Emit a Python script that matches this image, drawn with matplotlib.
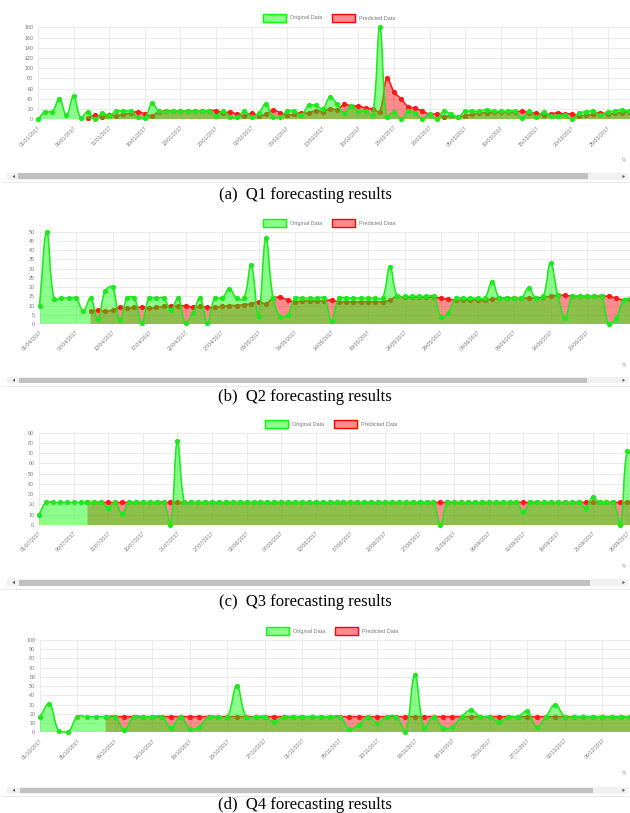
import numpy as np
import matplotlib
matplotlib.use("Agg")
import matplotlib.pyplot as plt
from matplotlib.patches import Rectangle, Polygon, PathPatch
from matplotlib.path import Path
from matplotlib.lines import Line2D

W, H = 630, 813

# ==================================================
# data
# ==================================================
q1_orig = [0, 15, 15, 40, 8, 46, 3, 15, 0, 12,
           7, 16, 16, 16, 4, 2, 31, 16, 16, 16,
           16, 16, 16, 16, 16, 7, 16, 5, 4, 16,
           5, 12, 30, 5, 4, 16, 16, 8, 27, 27,
           21, 43, 30, 13, 26, 16, 16, 8, 180, 4,
           15, 0, 16, 12, 1, 10, 1, 16, 10, 5,
           16, 16, 16, 19, 16, 16, 16, 16, 2, 16,
           4, 15, 7, 7, 8, 1, 12, 15, 16, 8,
           15, 16, 19, 16, 16, 15, 16, 17, 16]
q1_pred_start = 7
q1_pred = [3, 8, 5,
           8, 7, 10, 12, 15, 11, 7, 15, 16, 16,
           16, 16, 16, 16, 17, 17, 13, 14, 10, 7,
           12, 7, 10, 18, 13, 8, 10, 13, 12, 17,
           15, 21, 19, 29, 26, 26, 22, 20, 15, 80,
           54, 40, 25, 22, 16, 10, 10, 5, 8, 5,
           7, 10, 12, 13, 14, 14, 14, 14, 16, 13,
           12, 9, 10, 13, 10, 11, 7, 8, 10, 13,
           10, 12, 13, 15, 14, 15, 15, 16, 16]
q1_ticks = ["01/01/2017", "06/01/2017", "11/01/2017", "16/01/2017", "22/01/2017",
            "28/01/2017", "02/02/2017", "08/02/2017", "13/02/2017", "18/02/2017",
            "23/02/2017", "28/02/2017", "05/03/2017", "10/03/2017", "15/03/2017",
            "20/03/2017", "25/03/2017"]

q2_orig = [10, 50, 13.5, 14, 14, 14, 7, 14, 2.5, 18,
           20, 2, 14, 14, 0.5, 14, 14, 14, 7.5, 14,
           0.5, 6, 14, 0.5, 14, 14, 19, 14, 14, 32,
           4.5, 46.5, 14, 4, 5, 14, 14, 14, 14, 14,
           1.5, 14, 14, 14, 14, 14, 14, 14, 31, 15,
           15, 15, 15, 15, 15, 4, 6, 14, 14, 14,
           14, 14, 23, 14, 14, 14, 14, 19.5, 14, 15,
           33, 15.5, 3.5, 15, 15, 15, 15, 15, 0, 3,
           13, 14, 14, 15, 14, 14]
q2_pred_start = 7
q2_pred = [7, 7.5, 7,
           7.5, 9, 8.5, 9, 9, 8.5, 9, 9.5, 10, 9.5,
           10, 9, 9.5, 9, 9, 9.5, 10, 10, 10.5, 11,
           12, 11, 14, 14.5, 13, 12, 12.5, 12.5, 12.5, 12.5,
           13, 12, 12, 12, 12, 12, 12, 12, 13, 15,
           14.5, 14.5, 14.5, 14.5, 14.5, 14, 13.5, 13, 13, 13,
           13, 13, 13.5, 14, 14, 14, 14, 14, 14, 14.5,
           15, 15.5, 15.5, 15, 15, 15, 15, 15, 15, 14,
           13, 13, 13, 13.5, 13.5, 13.5]
q2_ticks = ["01/04/2017", "07/04/2017", "12/04/2017", "17/04/2017", "22/04/2017",
            "27/04/2017", "03/05/2017", "09/05/2017", "14/05/2017", "19/05/2017",
            "24/05/2017", "29/05/2017", "04/06/2017", "09/06/2017", "14/06/2017",
            "20/06/2017"]

q3_orig = [10, 22, 22, 22, 22, 22, 22, 22, 22, 22,
           17, 22, 11, 22, 22, 22, 22, 22, 22, 0,
           82, 22, 22, 22, 22, 22, 22, 22, 22, 22,
           22, 22, 22, 22, 22, 22, 22, 22, 22, 22,
           22, 22, 22, 22, 22, 22, 22, 22, 22, 22,
           22, 22, 22, 22, 22, 22, 22, 22, 0, 22,
           22, 22, 22, 22, 22, 22, 22, 22, 22, 22,
           13, 22, 22, 22, 22, 22, 22, 22, 22, 17,
           27, 22, 22, 22, 0, 72, 60, 22]
q3_pred_start = 7
q3_pred = [22, 22, 22,
           22, 22, 22, 22, 22, 22, 22, 22, 22, 22,
           22, 22, 22, 22, 22, 22, 22, 22, 22, 22,
           22, 22, 22, 22, 22, 22, 22, 22, 22, 22,
           22, 22, 22, 22, 22, 22, 22, 22, 22, 22,
           22, 22, 22, 22, 22, 22, 22, 22, 22, 22,
           22, 22, 22, 22, 22, 22, 22, 22, 22, 22,
           22, 22, 22, 22, 22, 22, 22, 22, 22, 22,
           22, 22, 22, 22, 22, 22, 22, 22]
q3_ticks = ["01/07/2017", "06/07/2017", "11/07/2017", "16/07/2017", "21/07/2017",
            "27/07/2017", "02/08/2017", "07/08/2017", "12/08/2017", "17/08/2017",
            "22/08/2017", "27/08/2017", "01/09/2017", "06/09/2017", "11/09/2017",
            "16/09/2017", "21/09/2017", "26/09/2017"]

q4_orig = [17, 31, 1.5, 0.5, 17, 17, 17, 17, 17, 2.5,
           17, 17, 17, 17, 5, 17, 4, 6, 17, 17,
           17, 50.5, 17, 17, 17, 11.5, 17, 17, 17, 17,
           17, 17, 17, 4, 8, 17, 10.5, 17, 17, 0.5,
           62, 5, 17, 5, 6, 17, 24, 17, 17, 11.5,
           17, 17, 23, 6, 17, 30, 17, 17, 17, 17,
           17, 17, 17, 17, 17, 17, 17]
q4_pred_start = 7
q4_pred = [17, 17, 17,
           17, 17, 17, 17, 17, 17, 17, 17, 17, 17,
           17, 17, 17, 17, 17, 17, 17, 17, 17, 17,
           17, 17, 17, 17, 17, 17, 17, 17, 17, 17,
           17, 17, 17, 17, 17, 17, 17, 17, 17, 17,
           17, 17, 17, 17, 17, 17, 17, 17, 17, 17,
           17, 17, 17, 17, 17, 17, 17]
q4_ticks = ["01/10/2017", "05/10/2017", "09/10/2017", "14/10/2017", "19/10/2017",
            "23/10/2017", "27/10/2017", "01/11/2017", "05/11/2017", "10/11/2017",
            "14/11/2017", "18/11/2017", "23/11/2017", "27/11/2017", "02/12/2017",
            "06/12/2017"]

captions = ["(a)  Q1 forecasting results", "(b)  Q2 forecasting results",
            "(c)  Q3 forecasting results", "(d)  Q4 forecasting results"]

# ==================================================
# helpers (pixel positions -> figure fractions)
# ==================================================
plt.rcParams["font.family"] = ["Liberation Sans", "DejaVu Sans"]

GREEN = (0.0, 1.0, 0.0)
RED = (1.0, 0.0, 0.0)
LINE_G = "#1ee81e"
LINE_R = "#ff1a1a"
TXT = "#777777"
TENSION = 0.4

fig = plt.figure(figsize=(W / 100, H / 100), dpi=100)
fig.patch.set_facecolor("white")


def fx(x):
    return x / W


def fy(y):
    return 1 - y / H


def add_rect(x0, y0, x1, y1, **kw):
    fig.patches.append(Rectangle((fx(x0), fy(y1)), (x1 - x0) / W, (y1 - y0) / H,
                                 transform=fig.transFigure, **kw))


def spline_verts(xs, ys, sx, sy, xmax, ymax):
    """Chart.js style bezier through the points (control points in pixel space)."""
    px = np.asarray(xs, float) * sx
    py = np.asarray(ys, float) * sy
    n = len(px)
    cprev = np.zeros((n, 2))
    cnext = np.zeros((n, 2))
    for i in range(n):
        a = max(i - 1, 0)
        b = min(i + 1, n - 1)
        d01 = np.hypot(px[i] - px[a], py[i] - py[a])
        d12 = np.hypot(px[b] - px[i], py[b] - py[i])
        tot = d01 + d12
        s01 = d01 / tot if tot else 0
        s12 = d12 / tot if tot else 0
        ddx, ddy = px[b] - px[a], py[b] - py[a]
        cprev[i] = (px[i] - TENSION * s01 * ddx, py[i] - TENSION * s01 * ddy)
        cnext[i] = (px[i] + TENSION * s12 * ddx, py[i] + TENSION * s12 * ddy)
    for c in (cprev, cnext):
        c[:, 0] = np.clip(c[:, 0], 0, xmax * sx)
        c[:, 1] = np.clip(c[:, 1], 0, ymax * sy)
    verts = [(px[0], py[0])]
    for i in range(n - 1):
        verts += [tuple(cnext[i]), tuple(cprev[i + 1]), (px[i + 1], py[i + 1])]
    verts = np.array(verts)
    verts[:, 0] /= sx
    verts[:, 1] /= sy
    return verts


def draw_series(ax, xs, ys, sx, sy, xmax, ymax, color, fill_rgba, z):
    v = spline_verts(xs, ys, sx, sy, xmax, ymax)
    codes = [Path.MOVETO] + [Path.CURVE4] * (len(v) - 1)
    fill_v = np.vstack([v, [[xs[-1], 0], [xs[0], 0], [xs[0], 0]]])
    fill_c = codes + [Path.LINETO, Path.LINETO, Path.CLOSEPOLY]
    ax.add_patch(PathPatch(Path(fill_v, fill_c), facecolor=fill_rgba, edgecolor="none", zorder=z))
    ax.add_patch(PathPatch(Path(v, codes), facecolor="none", edgecolor=color, lw=1.15,
                           zorder=z + 1, clip_on=False))
    ax.plot(xs, ys, "o", ms=3.8, color=color, mec="none", zorder=z + 2, clip_on=False)


def draw_legend(y, x0):
    items = [(x0, "Original Data", GREEN), (x0 + 69, "Predicted Data", RED)]
    for bx, label, col in items:
        add_rect(bx, y - 4, bx + 23, y + 4, facecolor=col + (0.45,), edgecolor=col, lw=1.0)
        fig.text(fx(bx + 27), fy(y), label, fontsize=4, color=TXT, ha="left", va="center")


def draw_scrollbar(y0, y1, t0, t1):
    add_rect(7, y0, 628, y1, facecolor="#f1f1f1", edgecolor="none")
    add_rect(t0, y0 + 0.5, t1, y1 - 0.5, facecolor="#c1c1c1", edgecolor="none")
    ym = (y0 + y1) / 2
    fig.patches.append(Polygon([(fx(12.5), fy(ym)), (fx(15), fy(ym - 1.6)), (fx(15), fy(ym + 1.6))],
                               closed=True, transform=fig.transFigure, facecolor="#505050", edgecolor="none"))
    fig.patches.append(Polygon([(fx(625), fy(ym)), (fx(622.5), fy(ym - 1.6)), (fx(622.5), fy(ym + 1.6))],
                               closed=True, transform=fig.transFigure, facecolor="#505050", edgecolor="none"))
    fig.lines.append(Line2D([fx(3), fx(630)], [fy(y1 + 2.5), fy(y1 + 2.5)],
                            transform=fig.transFigure, color="#e4e4e4", lw=0.6))


def draw_caption(y_base, text):
    fig.text(fx(305), fy(y_base), text, family="Liberation Serif", fontsize=12,
             ha="center", va="baseline")


def draw_panel(orig, pred, pred_start, ticks, tick_step, ymax, ystep,
               left, top, zero, dx):
    n = len(orig)
    ax = fig.add_axes([fx(left), fy(zero), dx * (n - 1) / W, (zero - top) / H])
    ax.set_xlim(0, n - 1)
    ax.set_ylim(0, ymax)
    ax.set_facecolor("none")
    for s in ax.spines.values():
        s.set_visible(False)

    ax.set_xticks(np.arange(len(ticks)) * tick_step)
    ax.set_xticklabels(ticks, rotation=45, ha="right", va="top",
                       rotation_mode="anchor", fontsize=3.8, color=TXT)
    ax.set_yticks(np.arange(0, ymax + 1, ystep))
    ax.tick_params(axis="y", length=0, pad=3.5, labelsize=3.8, labelcolor=TXT)
    ax.tick_params(axis="x", length=0, pad=4.0)
    ax.grid(True, color="#e8e8e8", lw=0.6)
    ax.set_axisbelow(True)

    sy = (zero - top) / ymax
    xo = np.arange(n)
    xp = np.arange(pred_start, pred_start + len(pred))
    # predicted series underneath, original series on top (Chart.js order)
    draw_series(ax, xp, pred, dx, sy, n - 1, ymax, LINE_R, RED + (0.45,), 1)
    draw_series(ax, xo, orig, dx, sy, n - 1, ymax, LINE_G, GREEN + (0.45,), 4)

    # piece of a label cut by the scroll viewport
    fig.text(fx(625), fy(zero + 41), "0", fontsize=3.8, color=TXT, rotation=45,
             ha="center", va="center")
    return ax


# ==================================================
# the four panels
# ==================================================
draw_panel(q1_orig, q1_pred, q1_pred_start, q1_ticks, 5, 180, 20, 38, 27.3, 119.3, 7.12)
draw_legend(18, 263)
draw_scrollbar(173, 180, 18, 588)
draw_caption(199, captions[0])

draw_panel(q2_orig, q2_pred, q2_pred_start, q2_ticks, 5, 50, 5, 39.5, 231.7, 324, 7.3)
draw_legend(223, 263)
draw_scrollbar(377, 383.5, 19, 587)
draw_caption(401, captions[1])

draw_panel(q3_orig, q3_pred, q3_pred_start, q3_ticks, 5, 90, 10, 39, 432.7, 525, 6.92)
draw_legend(424, 265)
draw_scrollbar(579, 586, 19, 590)
draw_caption(606, captions[2])

draw_panel(q4_orig, q4_pred, q4_pred_start, q4_ticks, 4, 100, 10, 40, 640, 732.3, 9.37)
draw_legend(631, 266)
draw_scrollbar(787, 793.5, 20, 593)
draw_caption(809, captions[3])

fig.savefig("out.png", dpi=100, facecolor="white")
